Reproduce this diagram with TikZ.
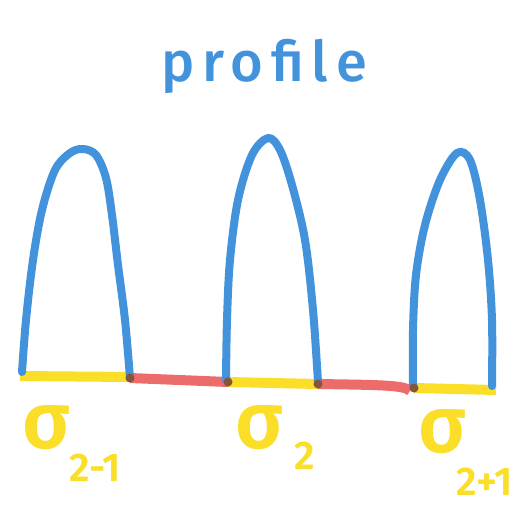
\documentclass[tikz,border=0pt]{standalone}
\usepackage{fontspec}
\setsansfont{Fira Sans}
\newfontfamily\titlefont[LetterSpace=14]{Fira Sans Medium}
\newfontfamily\lblfont{Fira Sans SemiBold}
\definecolor{penblue}{RGB}{66,146,220}
\definecolor{penyellow}{RGB}{250,222,40}
\definecolor{penred}{RGB}{236,108,108}
\definecolor{pendot}{RGB}{130,85,60}
\begin{document}
\begin{tikzpicture}[x=1pt,y=-1pt,
  arch/.style={draw=penblue,line width=8pt,line cap=round,line join=round},
  seg/.style={line width=10pt,line cap=butt},
  sig/.style={text=penyellow,inner sep=0pt,font=\lblfont\fontsize{80}{80}\selectfont},
  sub/.style={text=penyellow,inner sep=0pt,font=\lblfont\fontsize{40}{40}\selectfont}]
\useasboundingbox (0,0) rectangle (525,506);
\fill[white] (0,0) rectangle (525,506);
% title
\node[text=penblue,font=\titlefont\fontsize{56}{56}\selectfont] (title) at (264,66) {profile};
% baseline segments
\draw[seg,penyellow] (20,376) -- (130,377);
\draw[seg,penred] (130,378) -- (228,382);
\draw[seg,penyellow] (228,382) -- (318,384);
\draw[seg,penred] (318,384) .. controls (380,385) and (405,385) .. (410,391);
\draw[seg,penyellow] (414,388) -- (496,390);
% arches
\draw[arch] plot[smooth,tension=0.55] coordinates {(22,372) (26,320) (33,260) (42,210) (55,170) (70,153) (83,149) (96,155) (106,178) (112,215) (118,265) (125,320) (130,378)};
\draw[arch] plot[smooth,tension=0.55] coordinates {(226,380) (227,320) (230,260) (238,200) (252,155) (268,138) (280,150) (292,185) (305,240) (313,310) (318,382)};
\draw[arch] plot[smooth,tension=0.55] coordinates {(413,386) (413,330) (416,275) (425,225) (440,180) (457,153) (470,160) (480,200) (488,260) (492,320) (492,386)};
% joints
\foreach \p in {(130,378),(228,382),(318,384),(414,388)} \fill[pendot] \p circle (4.5pt);
% labels
\node[sig] (s1) at (46,428) {σ};
\node[sub] (s1i) at (95,468) {2-1};
\node[sig] (s2) at (259,428) {σ};
\node[sub] (s2i) at (305,456) {2};
\node[sig] (s3) at (442,432) {σ};
\node[sub] (s3i) at (485,482) {2+1};
\end{tikzpicture}
\end{document}
